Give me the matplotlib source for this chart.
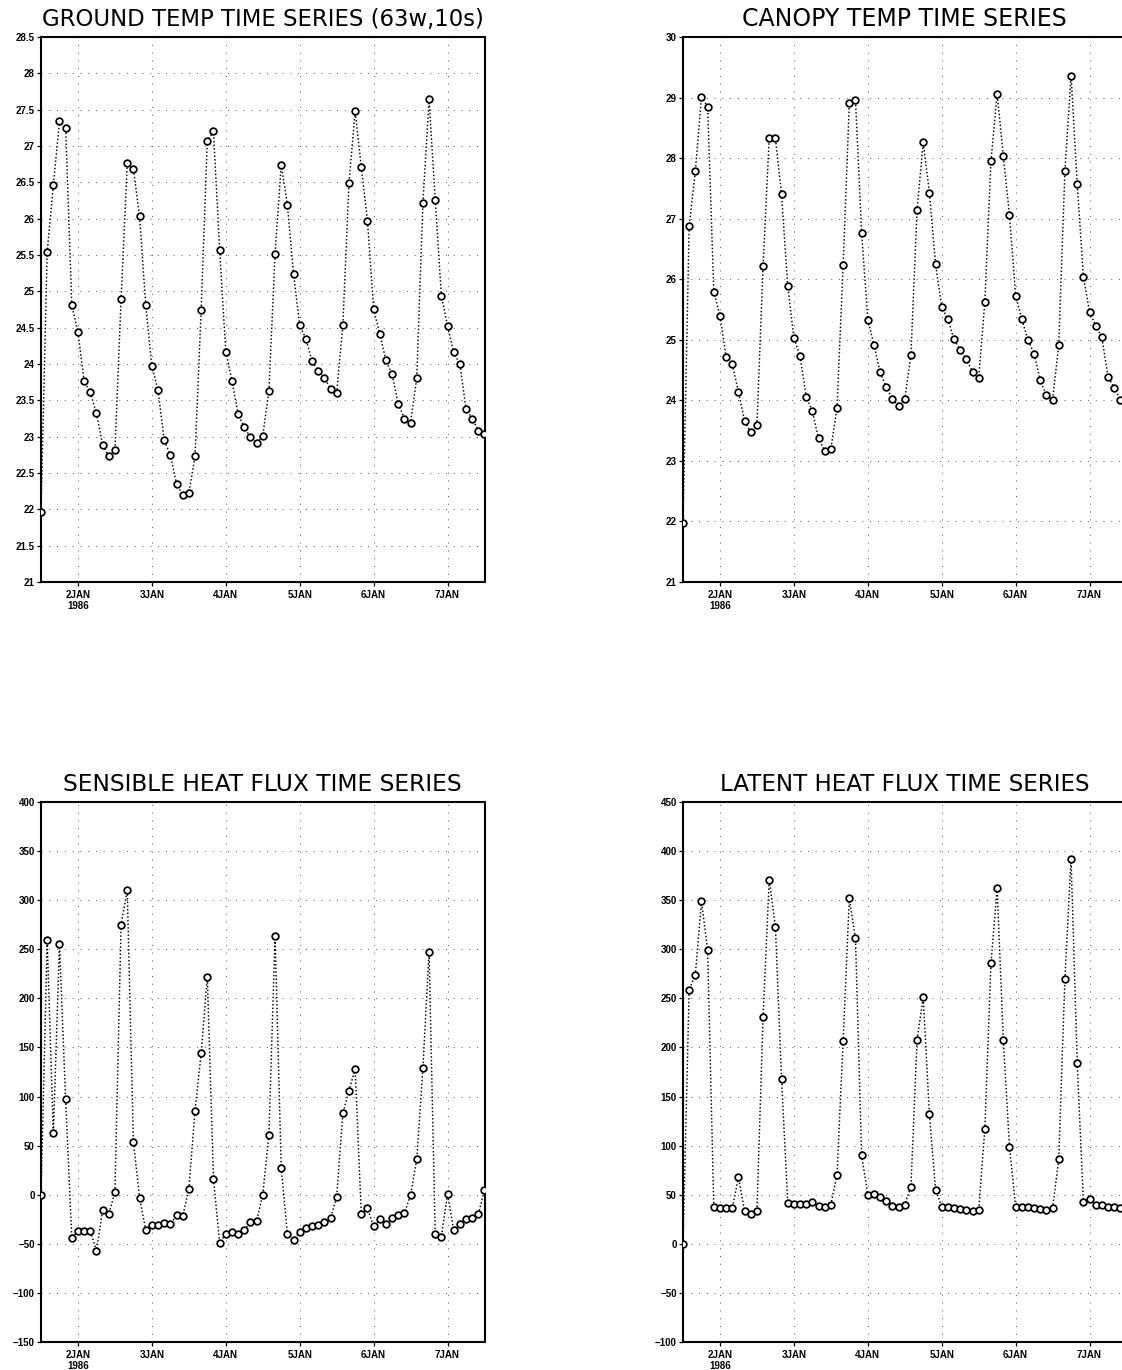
import matplotlib
matplotlib.use("Agg")
import matplotlib.pyplot as plt
import matplotlib.ticker as mticker
import pandas as pd

# ---------------- data (2-hourly, starting 1 JAN 1986 12Z) ----------------
start_time = "1986-01-01 12:00"
step = "2h"

ground_temp = [21.97, 25.54, 26.46, 27.34, 27.25, 24.81, 24.44, 23.76, 23.61, 23.32,
               22.89, 22.73, 22.81, 24.89, 26.76, 26.69, 26.03, 24.81, 23.97, 23.64,
               22.95, 22.75, 22.35, 22.20, 22.22, 22.73, 24.74, 27.07, 27.20, 25.57,
               24.17, 23.77, 23.31, 23.13, 22.99, 22.91, 23.01, 23.63, 25.52, 26.74,
               26.19, 25.24, 24.53, 24.35, 24.04, 23.91, 23.81, 23.66, 23.60, 24.53,
               26.49, 27.48, 26.71, 25.97, 24.76, 24.41, 24.05, 23.86, 23.45, 23.25,
               23.19, 23.81, 26.22, 27.64, 26.26, 24.94, 24.52, 24.16, 24.00, 23.38,
               23.25, 23.08, 23.03]

canopy_temp = [21.97, 26.88, 27.78, 29.01, 28.85, 25.79, 25.40, 24.72, 24.60, 24.14,
               23.66, 23.47, 23.59, 26.22, 28.34, 28.33, 27.40, 25.89, 25.03, 24.73,
               24.06, 23.82, 23.37, 23.17, 23.20, 23.87, 26.24, 28.91, 28.96, 26.76,
               25.33, 24.92, 24.46, 24.22, 24.02, 23.90, 24.02, 24.75, 27.15, 28.26,
               27.43, 26.25, 25.54, 25.34, 25.01, 24.83, 24.68, 24.47, 24.37, 25.62,
               27.96, 29.06, 28.04, 27.06, 25.73, 25.34, 25.00, 24.77, 24.33, 24.08,
               24.01, 24.91, 27.79, 29.36, 27.57, 26.04, 25.46, 25.23, 25.04, 24.39,
               24.21, 24.01]

sensible_heat = [0, 259, 63, 255, 97, -44, -37, -37, -37, -57,
                 -16, -20, 3, 275, 310, 54, -3, -36, -31, -31,
                 -29, -30, -21, -22, 6, 85, 144, 222, 16, -49,
                 -40, -38, -40, -36, -28, -27, 0, 61, 264, 27,
                 -40, -46, -38, -34, -32, -31, -28, -24, -2, 83,
                 106, 128, -20, -14, -32, -25, -30, -24, -21, -19,
                 0, 36, 129, 247, -40, -43, 1, -36, -30, -25,
                 -24, -20, 5]

latent_heat = [0, 259, 274, 349, 299, 37, 36, 36, 36, 68,
               33, 30, 33, 231, 371, 323, 168, 42, 41, 41,
               41, 43, 39, 37, 40, 70, 207, 352, 311, 90,
               50, 51, 48, 44, 39, 37, 40, 58, 208, 251,
               132, 55, 38, 37, 36, 35, 34, 33, 34, 117,
               286, 362, 208, 99, 38, 38, 37, 36, 35, 34,
               36, 86, 270, 392, 184, 43, 46, 40, 40, 38,
               37, 36]

titles = ["GROUND TEMP TIME SERIES (63w,10s)", "CANOPY TEMP TIME SERIES",
          "SENSIBLE HEAT FLUX TIME SERIES", "LATENT HEAT FLUX TIME SERIES"]
day_ticks = ["1986-01-02", "1986-01-03", "1986-01-04", "1986-01-05", "1986-01-06", "1986-01-07"]
day_labels = ["2JAN\n1986", "3JAN", "4JAN", "5JAN", "6JAN", "7JAN"]
x_range = ["1986-01-01 12:00", "1986-01-07 12:00"]

# ---------------- layout ----------------
W, H = 1122, 1370
fig = plt.figure(figsize=(W / 100, H / 100), dpi=100)
fig.patch.set_facecolor("white")


def rect(left, top, right, bottom):
    return [left / W, 1 - bottom / H, (right - left) / W, (bottom - top) / H]


panels = [
    dict(title=titles[0], values=ground_temp, box=(41, 37, 484.5, 582), ylim=(21, 28.5), ystep=0.5, fs=16.4),
    dict(title=titles[1], values=canopy_temp, box=(683, 37, 1126.5, 582), ylim=(21, 30), ystep=1, fs=17),
    dict(title=titles[2], values=sensible_heat, box=(41, 802, 484.5, 1342), ylim=(-150, 400), ystep=50, fs=16.8),
    dict(title=titles[3], values=latent_heat, box=(683, 802, 1126.5, 1342), ylim=(-100, 450), ystep=50, fs=16.6),
]

title_font = ["DejaVu Sans"]
tick_font = ["Liberation Sans", "DejaVu Sans"]


def fmt(v, pos):
    s = f"{v:g}"
    return s.replace("-", "\u2212")


for p in panels:
    ax = fig.add_axes(rect(*p["box"]))
    times = pd.date_range(start_time, periods=len(p["values"]), freq=step)
    ax.plot(times, p["values"], color="black", linestyle=(0, (1, 1.5)), linewidth=1.05,
            marker="o", markersize=4.8, markerfacecolor="white", markeredgecolor="black",
            markeredgewidth=1.25, zorder=3)
    ax.set_xlim(pd.Timestamp(x_range[0]), pd.Timestamp(x_range[1]))
    y0, y1 = p["ylim"]
    ax.set_ylim(y0, y1)
    ax.yaxis.set_major_locator(mticker.MultipleLocator(p["ystep"]))
    ax.yaxis.set_major_formatter(mticker.FuncFormatter(fmt))
    ax.set_xticks([pd.Timestamp(d) for d in day_ticks])
    ax.set_xticklabels(day_labels, linespacing=1.05)
    ax.grid(True, linestyle=(0, (1, 7)), color="0.35", linewidth=0.7)
    for sp in ax.spines.values():
        sp.set_linewidth(1.5)
        sp.set_color("black")
    ax.tick_params(axis="both", direction="out", length=3, width=0.9, pad=1.5,
                   labelsize=7)
    ax.tick_params(axis="x", pad=3)
    for lab in ax.get_xticklabels() + ax.get_yticklabels():
        lab.set_fontfamily(tick_font)
        lab.set_fontweight("bold")
    l, t, r, b = p["box"]
    fig.text(((l + r) / 2) / W, 1 - (t - 11) / H, p["title"], ha="center", va="baseline",
             fontsize=p["fs"], family=title_font, color="black")

fig.savefig("out.png", dpi=100, facecolor="white")
